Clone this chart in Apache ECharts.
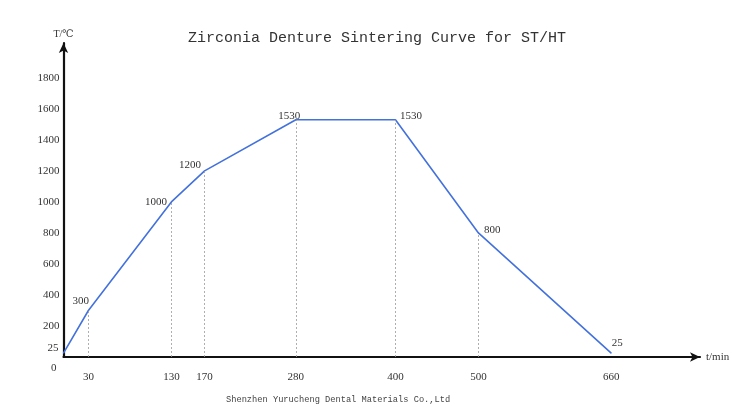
<!DOCTYPE html>
<html>
<head>
    <meta charset="UTF-8">
    <title>Sintering Curve</title>
    <script src="https://cdn.jsdelivr.net/npm/echarts@6/dist/echarts.min.js"></script>
</head>
<body style="margin:0;background:#fff;">
<div id="main" style="width:750px;height:419px;"></div>
<script>
    // time (min) and temperature (℃) of each step
    var times = [0, 30, 130, 170, 280, 400, 500, 660];
    var temps = [25, 300, 1000, 1200, 1530, 1530, 800, 25];
    var xTicks = [30, 130, 170, 280, 400, 500, 660];
    var yTicks = [0, 25, 200, 400, 600, 800, 1000, 1200, 1400, 1600, 1800];
    // points that get a dotted drop line
    var dropIdx = [1, 2, 3, 4, 5, 6];

    // label placement per point (first point has no label)
    var labelCfg = [
        {show: false},
        {position: 'left', offset: [6, -9]},
        {position: 'left', offset: [1, 0]},
        {position: 'left', offset: [2, -6]},
        {position: 'left', offset: [10, -4]},
        {position: 'right', offset: [-1, -4]},
        {position: 'right', offset: [0, -3]},
        {position: 'top', offset: [6, 1]}
    ];

    var pts = times.map(function (t, i) {
        var lb = Object.assign({show: true}, labelCfg[i]);
        return {value: [t, temps[i]], label: lb};
    });

    var drops = dropIdx.map(function (i) {
        return [{coord: [times[i], 0]}, {coord: [times[i], temps[i]]}];
    });

    var serif = '"Liberation Serif", "DejaVu Serif", serif';

    var chart = echarts.init(document.getElementById('main'), null, {renderer: 'canvas'});
    chart.setOption({
        animation: false,
        title: {
            text: 'Zirconia Denture Sintering Curve for ST/HT',
            left: 372, top: 26, textAlign: 'center',
            textStyle: {fontFamily: '"Liberation Mono", monospace', fontWeight: 'normal', fontSize: 15, color: '#333'}
        },
        graphic: [{
            type: 'text', left: 226, top: 395,
            style: {text: 'Shenzhen Yurucheng Dental Materials Co.,Ltd', font: '8.7px "Liberation Mono", monospace', fill: '#444'}
        }],
        grid: {left: 63.5, right: 50, top: 43, bottom: 62},
        xAxis: {
            type: 'value', min: 0, max: 767,
            name: 't/min', nameLocation: 'end', nameGap: 6,
            nameTextStyle: {fontFamily: serif, fontSize: 11, color: '#333', verticalAlign: 'middle', padding: [8, 0, 0, 0]},
            splitLine: {show: false},
            axisLine: {lineStyle: {color: '#111', width: 2.2}, symbol: ['none', 'arrow'], symbolSize: [7, 10]},
            axisTick: {show: false},
            axisLabel: {customValues: xTicks, margin: 15, fontFamily: serif, fontSize: 11, color: '#333'}
        },
        yAxis: {
            type: 'value', min: 0, max: 2025,
            name: 'T/℃', nameLocation: 'end', nameGap: 4,
            nameTextStyle: {fontFamily: serif, fontSize: 10, color: '#333', padding: [0, 0, 0, 0]},
            splitLine: {show: false},
            axisLine: {lineStyle: {color: '#111', width: 2.2}, symbol: ['none', 'arrow'], symbolSize: [7, 10]},
            axisTick: {show: false},
            axisLabel: {
                customValues: yTicks, margin: 4, fontFamily: serif, fontSize: 11, color: '#333',
                formatter: function (v) {
                    if (v === 0) return '{lo|0}';
                    if (v === 25) return '{hi|25}';
                    return v;
                },
                rich: {
                    lo: {fontFamily: serif, fontSize: 11, color: '#333', padding: [22, 3, 0, 0]},
                    hi: {fontFamily: serif, fontSize: 11, color: '#333', padding: [0, 1, 10, 0]}
                }
            }
        },
        series: [{
            type: 'line',
            data: pts,
            symbol: 'circle',
            symbolSize: 1,
            showSymbol: true,
            itemStyle: {color: '#4472dd'},
            lineStyle: {color: '#4472dd', width: 1.6},
            label: {show: true, fontFamily: serif, fontSize: 11, color: '#333'},
            markLine: {
                silent: true, symbol: 'none',
                label: {show: false},
                lineStyle: {color: '#9a9a9a', type: [2, 2], width: 0.8},
                data: drops
            }
        }]
    });
</script>
</body>
</html>
